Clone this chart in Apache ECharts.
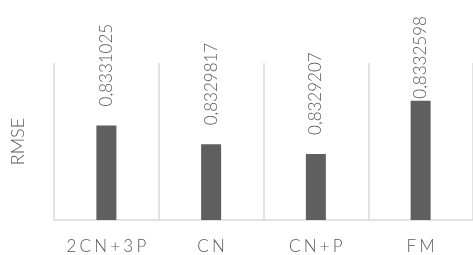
<!DOCTYPE html>
<html>
<head>
<meta charset="utf-8">
<script src="https://cdn.jsdelivr.net/npm/echarts@6/dist/echarts.min.js"></script>
<style>
  html, body { margin: 0; padding: 0; background: #fff; }
  #chart { width: 473px; height: 255px; }
</style>
</head>
<body>
<div id="chart"></div>
<script>
// dados do gráfico
const categories = ['2CN+3P', 'CN', 'CN+P', 'FM'];
const rmseValues = [0.8331025, 0.8329817, 0.8329207, 0.8332598];

const textColor = '#595959';
const font = 'Lato';

const chart = echarts.init(document.getElementById('chart'));

// espaçamento entre letras (como no Excel)
const spaced = s => s.split('').join('\u2009\u200A');

const option = {
  animation: false,
  grid: { left: 54, top: 63, width: 430, height: 157, containLabel: false },
  xAxis: {
    type: 'category',
    data: categories,
    axisLine: { lineStyle: { color: '#d9d9d9', width: 1.5 } },
    axisTick: { show: false },
    splitLine: { show: true, interval: 0, lineStyle: { color: '#d9d9d9', width: 1.5 } },
    axisLabel: {
      interval: 0,
      color: textColor, fontSize: 17, fontFamily: font, fontWeight: 300,
      margin: 18, formatter: v => spaced(v)
    }
  },
  yAxis: {
    type: 'value',
    min: 0.8325,
    max: 0.8335,
    name: 'RMSE',
    nameLocation: 'middle',
    nameGap: 27,
    nameTextStyle: { color: textColor, fontSize: 18, fontFamily: font, fontWeight: 300 },
    axisLine: { show: false },
    axisTick: { show: false },
    axisLabel: { show: false },
    splitLine: { show: false }
  },
  series: [{
    type: 'bar',
    barWidth: 20,
    itemStyle: { color: '#5f5f5f' },
    data: rmseValues.map((v, i) => ({
      value: v,
      // o último rótulo fica encostado na barra (limite do topo)
      label: i === 3 ? { distance: 0 } : undefined
    })),
    label: {
      show: true,
      position: 'top',
      rotate: 90,
      align: 'left',
      verticalAlign: 'middle',
      distance: 17,
      offset: [2, 0],
      color: textColor,
      fontSize: 17,
      fontFamily: font,
      fontWeight: 300,
      formatter: p => p.value.toFixed(7).replace('.', ',')
    }
  }]
};

chart.setOption(option);
</script>
</body>
</html>
